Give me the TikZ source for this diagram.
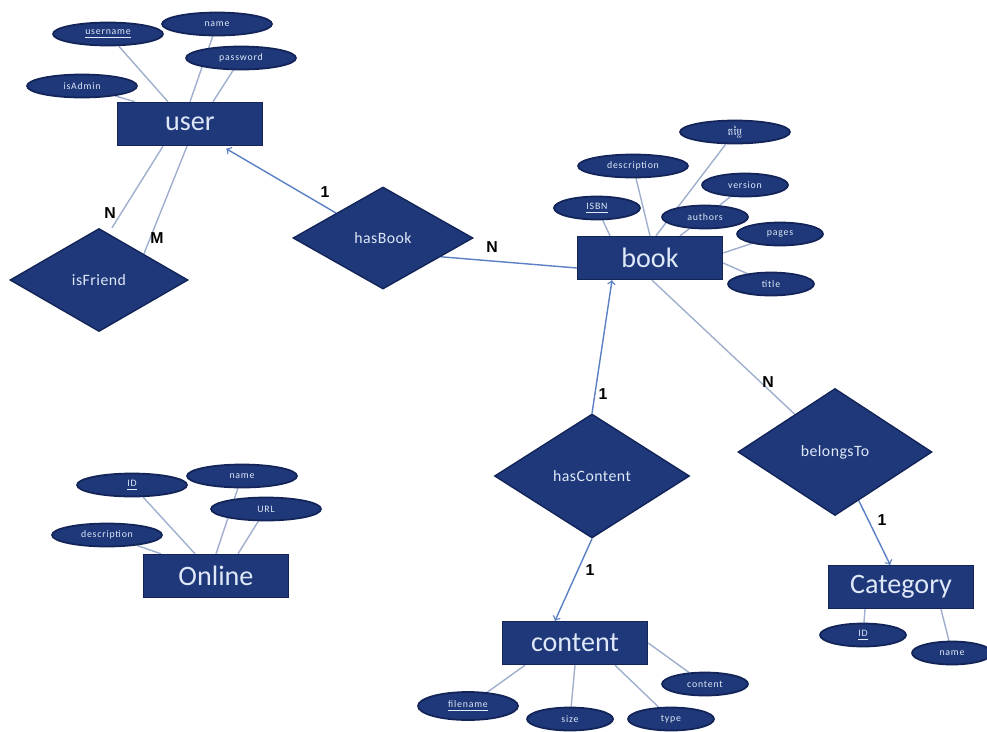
\documentclass[tikz,border=0pt]{standalone}
\usepackage{fontspec}
\setmainfont{Carlito}
\newfontfamily\khmerfont[Script=Khmer]{Battambang}
\newfontfamily\labelfont{Liberation Sans}
\usetikzlibrary{shapes.geometric,backgrounds}
\definecolor{erfill}{RGB}{31,56,122}
\definecolor{erline}{RGB}{18,36,88}
\definecolor{ertext}{RGB}{222,232,248}
\definecolor{linkgrey}{RGB}{160,175,205}
\definecolor{linkblue}{RGB}{90,128,196}
\begin{document}
\begin{tikzpicture}[x=0.02cm,y=-0.02cm,
  entity/.style={rectangle,draw=erline,thick,fill=erfill,text=ertext,minimum width=2.9cm,minimum height=0.86cm,font=\fontsize{16}{16}\selectfont},
  attr/.style={ellipse,draw=erline,line width=1pt,fill=erfill,text=ertext,inner sep=0pt,minimum width=2.2cm,minimum height=0.46cm,font=\fontsize{5.6}{6}\selectfont\addfontfeatures{LetterSpace=8}},
  attrs/.style={attr,minimum width=1.72cm,minimum height=0.46cm},
  relation/.style={diamond,draw=erline,thick,fill=erfill,text=ertext,inner sep=0pt,font=\fontsize{9}{9}\selectfont\addfontfeatures{LetterSpace=3}},
  card/.style={font=\labelfont\bfseries\fontsize{9}{9}\selectfont},
  attrline/.style={linkgrey,thick},
  relline/.style={linkblue,thick}]
\useasboundingbox (0,0) rectangle (987,731);
% user
\node[entity] (user) at (190,124) {user};
\node[attr] (username) at (108,34) {\underline{username}};
\node[attr] (uname) at (217,24) {name};
\node[attr] (password) at (241,58) {password};
\node[attr] (isadmin) at (82,86) {isAdmin};
\node[relation,minimum width=3.56cm,minimum height=2.06cm] (isfriend) at (99,280) {isFriend};
\node[relation,minimum width=3.6cm,minimum height=2.04cm] (hasbook) at (383,238) {hasBook};
% book
\node[entity] (book) at (650,258) {book};
\node[attr] (bkhmer) at (735,132) {\khmerfont តម្លៃ};
\node[attr] (description) at (633,166) {description};
\node[attrs] (version) at (745,185) {version};
\node[attrs] (isbn) at (597,208) {\underline{ISBN}};
\node[attrs] (authors) at (705,217) {authors};
\node[attrs] (pages) at (780,234) {pages};
\node[attrs] (title) at (771,284) {title};
\node[relation,minimum width=3.9cm,minimum height=2.48cm] (hascontent) at (592,476) {hasContent};
\node[relation,minimum width=3.88cm,minimum height=2.54cm] (belongsto) at (835,452) {belongsTo};
% content
\node[entity] (content) at (575,643) {content};
\node[attr,minimum width=2cm,minimum height=0.56cm] (filename) at (468,706) {\underline{filename}};
\node[attrs] (size) at (570,719) {size};
\node[attrs] (type) at (671,719) {type};
\node[attrs] (ccontent) at (705,684) {content};
% category
\node[entity] (category) at (901,587) {Category};
\node[attrs] (catid) at (863,635) {\underline{ID}};
\node[attrs,minimum width=1.6cm] (catname) at (952,653) {name};
% online
\node[entity] (online) at (216,576) {Online};
\node[attr] (onid) at (132,485) {\underline{ID}};
\node[attr] (onname) at (242,476) {name};
\node[attr] (url) at (266,509) {URL};
\node[attr] (ondesc) at (107,535) {description};
% cardinalities
\node[card] (nfriend) at (110,213) {N};
\node[card] (mfriend) at (157,238) {M};
\node[card] (oneuser) at (325,192) {1};
\node[card] (nbook) at (492,247) {N};
\node[card] (onebook) at (603,394) {1};
\node[card] (ncat) at (768,382) {N};
\node[card] (onecat) at (882,520) {1};
\node[card] (onecontent) at (590,570) {1};
\begin{pgfonlayer}{background}
\draw[attrline] (username) -- ([xshift=-0.44cm]user.north);
\draw[attrline] (uname) -- (user.north);
\draw[attrline] (password) -- ([xshift=0.46cm]user.north);
\draw[attrline] (isadmin) -- ([xshift=-1.1cm]user.north);
\draw[attrline] ([xshift=-0.54cm]user.south) -- ([xshift=0.26cm]isfriend.north);
\draw[attrline] ([xshift=-0.06cm]user.south) -- (isfriend.north east);
\draw[relline,->,shorten >=0.1cm] (hasbook.152) -- ([xshift=0.64cm]user.south);
\draw[relline] (hasbook.-18) -- ([yshift=-0.2cm]book.west);
\draw[attrline] (bkhmer) -- ([xshift=0.12cm]book.north);
\draw[attrline] (description) -- (book.north);
\draw[attrline] (version) -- (authors);
\draw[attrline] (isbn) -- ([xshift=-0.8cm]book.north);
\draw[attrline] (authors) -- ([xshift=0.6cm]book.north);
\draw[attrline] (pages) -- ([yshift=0.1cm]book.east);
\draw[attrline] (title) -- ([yshift=-0.1cm]book.east);
\draw[relline,->] (hascontent.north) -- ([xshift=-0.76cm]book.south);
\draw[attrline] ([xshift=0.04cm]book.south) -- (belongsto);
\draw[relline,->] (belongsto) -- (category);
\draw[relline,->] (hascontent.south) -- ([xshift=-0.4cm]content.north);
\draw[attrline] (filename) -- ([xshift=-1cm]content.south);
\draw[attrline] (size) -- (content.south);
\draw[attrline] (type) -- ([xshift=0.8cm]content.south);
\draw[attrline] (ccontent) -- (content.east);
\draw[attrline] (catid) -- ([xshift=-0.72cm]category.south);
\draw[attrline] (catname) -- ([xshift=0.8cm]category.south);
\draw[attrline] (onid) -- ([xshift=-0.42cm]online.north);
\draw[attrline] (onname) -- (online.north);
\draw[attrline] (url) -- ([xshift=0.44cm]online.north);
\draw[attrline] (ondesc) -- ([xshift=-1.1cm]online.north);
\end{pgfonlayer}
\end{tikzpicture}
\end{document}
